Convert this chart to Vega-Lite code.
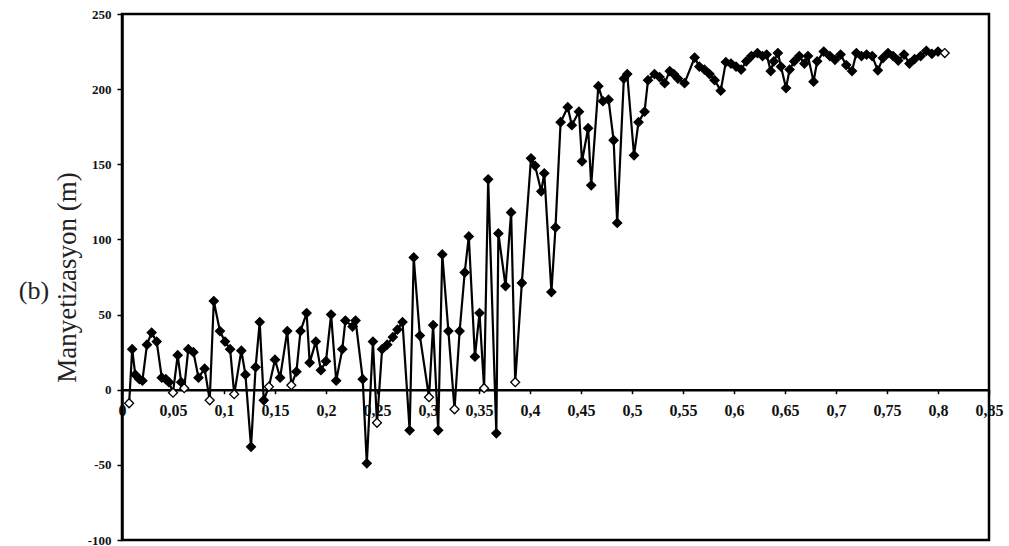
{
  "$schema": "https://vega.github.io/schema/vega-lite/v6.json",
  "width": 867,
  "height": 526,
  "autosize": {"type": "none"},
  "padding": {"left": 122, "top": 14, "right": 20, "bottom": 6},
  "background": "white",
  "title": {
    "text": "(b)",
    "orient": "left",
    "angle": 0,
    "anchor": "middle",
    "baseline": "middle",
    "align": "left",
    "offset": 4,
    "dy": 14,
    "font": "Liberation Serif",
    "fontSize": 26,
    "fontWeight": "normal",
    "color": "#222"
  },
  "config": {
    "view": {"stroke": "black", "strokeWidth": 2.5},
    "axis": {"grid": false}
  },
  "data": {
    "values": [
      {"h": 0.007, "m": -9, "k": "o"},
      {"h": 0.010, "m": 27, "k": "f"},
      {"h": 0.013, "m": 10, "k": "f"},
      {"h": 0.017, "m": 7, "k": "f"},
      {"h": 0.020, "m": 6, "k": "f"},
      {"h": 0.0245, "m": 30, "k": "f"},
      {"h": 0.029, "m": 38, "k": "f"},
      {"h": 0.034, "m": 32, "k": "f"},
      {"h": 0.039, "m": 8, "k": "f"},
      {"h": 0.043, "m": 7, "k": "f"},
      {"h": 0.046, "m": 5, "k": "f"},
      {"h": 0.050, "m": -2, "k": "o"},
      {"h": 0.0546, "m": 23, "k": "f"},
      {"h": 0.058, "m": 5, "k": "f"},
      {"h": 0.061, "m": 1, "k": "o"},
      {"h": 0.065, "m": 27, "k": "f"},
      {"h": 0.070, "m": 25, "k": "f"},
      {"h": 0.075, "m": 8, "k": "f"},
      {"h": 0.081, "m": 14, "k": "f"},
      {"h": 0.086, "m": -7, "k": "o"},
      {"h": 0.090, "m": 59, "k": "f"},
      {"h": 0.096, "m": 39, "k": "f"},
      {"h": 0.101, "m": 32, "k": "f"},
      {"h": 0.106, "m": 27, "k": "f"},
      {"h": 0.110, "m": -3, "k": "o"},
      {"h": 0.117, "m": 26, "k": "f"},
      {"h": 0.121, "m": 10, "k": "f"},
      {"h": 0.1265, "m": -38, "k": "f"},
      {"h": 0.131, "m": 15, "k": "f"},
      {"h": 0.135, "m": 45, "k": "f"},
      {"h": 0.139, "m": -7, "k": "f"},
      {"h": 0.144, "m": 2, "k": "o"},
      {"h": 0.150, "m": 20, "k": "f"},
      {"h": 0.155, "m": 8, "k": "f"},
      {"h": 0.162, "m": 39, "k": "f"},
      {"h": 0.166, "m": 3, "k": "o"},
      {"h": 0.171, "m": 12, "k": "f"},
      {"h": 0.175, "m": 39, "k": "f"},
      {"h": 0.181, "m": 51, "k": "f"},
      {"h": 0.184, "m": 18, "k": "f"},
      {"h": 0.190, "m": 32, "k": "f"},
      {"h": 0.195, "m": 13, "k": "f"},
      {"h": 0.200, "m": 19, "k": "f"},
      {"h": 0.205, "m": 50, "k": "f"},
      {"h": 0.210, "m": 6, "k": "f"},
      {"h": 0.216, "m": 27, "k": "f"},
      {"h": 0.219, "m": 46, "k": "f"},
      {"h": 0.226, "m": 42, "k": "f"},
      {"h": 0.229, "m": 46, "k": "f"},
      {"h": 0.236, "m": 7, "k": "f"},
      {"h": 0.240, "m": -49, "k": "f"},
      {"h": 0.246, "m": 32, "k": "f"},
      {"h": 0.250, "m": -22, "k": "o"},
      {"h": 0.255, "m": 27, "k": "f"},
      {"h": 0.260, "m": 30, "k": "f"},
      {"h": 0.2655, "m": 35, "k": "f"},
      {"h": 0.270, "m": 40, "k": "f"},
      {"h": 0.275, "m": 45, "k": "f"},
      {"h": 0.282, "m": -27, "k": "f"},
      {"h": 0.286, "m": 88, "k": "f"},
      {"h": 0.292, "m": 36, "k": "f"},
      {"h": 0.301, "m": -5, "k": "o"},
      {"h": 0.305, "m": 43, "k": "f"},
      {"h": 0.310, "m": -27, "k": "f"},
      {"h": 0.314, "m": 90, "k": "f"},
      {"h": 0.320, "m": 39, "k": "f"},
      {"h": 0.326, "m": -13, "k": "o"},
      {"h": 0.331, "m": 39, "k": "f"},
      {"h": 0.336, "m": 78, "k": "f"},
      {"h": 0.340, "m": 102, "k": "f"},
      {"h": 0.346, "m": 22, "k": "f"},
      {"h": 0.3505, "m": 51, "k": "f"},
      {"h": 0.355, "m": 1, "k": "o"},
      {"h": 0.359, "m": 140, "k": "f"},
      {"h": 0.367, "m": -29, "k": "f"},
      {"h": 0.369, "m": 104, "k": "f"},
      {"h": 0.376, "m": 69, "k": "f"},
      {"h": 0.3815, "m": 118, "k": "f"},
      {"h": 0.3855, "m": 5, "k": "o"},
      {"h": 0.392, "m": 71, "k": "f"},
      {"h": 0.401, "m": 154, "k": "f"},
      {"h": 0.405, "m": 149, "k": "f"},
      {"h": 0.411, "m": 132, "k": "f"},
      {"h": 0.414, "m": 144, "k": "f"},
      {"h": 0.421, "m": 65, "k": "f"},
      {"h": 0.425, "m": 108, "k": "f"},
      {"h": 0.430, "m": 178, "k": "f"},
      {"h": 0.437, "m": 188, "k": "f"},
      {"h": 0.441, "m": 176, "k": "f"},
      {"h": 0.448, "m": 185, "k": "f"},
      {"h": 0.451, "m": 152, "k": "f"},
      {"h": 0.457, "m": 174, "k": "f"},
      {"h": 0.460, "m": 136, "k": "f"},
      {"h": 0.467, "m": 202, "k": "f"},
      {"h": 0.4715, "m": 192, "k": "f"},
      {"h": 0.477, "m": 193, "k": "f"},
      {"h": 0.482, "m": 166, "k": "f"},
      {"h": 0.4855, "m": 111, "k": "f"},
      {"h": 0.492, "m": 207, "k": "f"},
      {"h": 0.4953, "m": 210, "k": "f"},
      {"h": 0.502, "m": 156, "k": "f"},
      {"h": 0.5064, "m": 178, "k": "f"},
      {"h": 0.5123, "m": 185, "k": "f"},
      {"h": 0.5157, "m": 206, "k": "f"},
      {"h": 0.522, "m": 210, "k": "f"},
      {"h": 0.527, "m": 208, "k": "f"},
      {"h": 0.532, "m": 204, "k": "f"},
      {"h": 0.537, "m": 212, "k": "f"},
      {"h": 0.541, "m": 210, "k": "f"},
      {"h": 0.545, "m": 207, "k": "f"},
      {"h": 0.5515, "m": 204, "k": "f"},
      {"h": 0.5614, "m": 221, "k": "f"},
      {"h": 0.566, "m": 215, "k": "f"},
      {"h": 0.571, "m": 213, "k": "f"},
      {"h": 0.576, "m": 210, "k": "f"},
      {"h": 0.581, "m": 206, "k": "f"},
      {"h": 0.587, "m": 199, "k": "f"},
      {"h": 0.592, "m": 218, "k": "f"},
      {"h": 0.597, "m": 217, "k": "f"},
      {"h": 0.602, "m": 215, "k": "f"},
      {"h": 0.607, "m": 213, "k": "f"},
      {"h": 0.612, "m": 218.5, "k": "f"},
      {"h": 0.617, "m": 222, "k": "f"},
      {"h": 0.623, "m": 224, "k": "f"},
      {"h": 0.628, "m": 222, "k": "f"},
      {"h": 0.632, "m": 223, "k": "f"},
      {"h": 0.636, "m": 212, "k": "f"},
      {"h": 0.639, "m": 218.5, "k": "f"},
      {"h": 0.643, "m": 224, "k": "f"},
      {"h": 0.646, "m": 215, "k": "f"},
      {"h": 0.651, "m": 200.7, "k": "f"},
      {"h": 0.6545, "m": 213, "k": "f"},
      {"h": 0.659, "m": 218.5, "k": "f"},
      {"h": 0.664, "m": 222, "k": "f"},
      {"h": 0.669, "m": 217, "k": "f"},
      {"h": 0.6725, "m": 222, "k": "f"},
      {"h": 0.678, "m": 205, "k": "f"},
      {"h": 0.6815, "m": 218.5, "k": "f"},
      {"h": 0.688, "m": 225, "k": "f"},
      {"h": 0.694, "m": 222, "k": "f"},
      {"h": 0.699, "m": 219.5, "k": "f"},
      {"h": 0.7045, "m": 223, "k": "f"},
      {"h": 0.710, "m": 216, "k": "f"},
      {"h": 0.7157, "m": 212, "k": "f"},
      {"h": 0.720, "m": 224, "k": "f"},
      {"h": 0.725, "m": 222, "k": "f"},
      {"h": 0.730, "m": 223, "k": "f"},
      {"h": 0.7355, "m": 222, "k": "f"},
      {"h": 0.741, "m": 212.5, "k": "f"},
      {"h": 0.746, "m": 220.7, "k": "f"},
      {"h": 0.751, "m": 224, "k": "f"},
      {"h": 0.756, "m": 222, "k": "f"},
      {"h": 0.761, "m": 219, "k": "f"},
      {"h": 0.7667, "m": 223, "k": "f"},
      {"h": 0.772, "m": 217, "k": "f"},
      {"h": 0.777, "m": 220, "k": "f"},
      {"h": 0.783, "m": 222, "k": "f"},
      {"h": 0.7886, "m": 225.5, "k": "f"},
      {"h": 0.794, "m": 223.5, "k": "f"},
      {"h": 0.800, "m": 225, "k": "f"},
      {"h": 0.8066, "m": 224, "k": "o"}
    ]
  },
  "encoding": {
    "x": {
      "field": "h",
      "type": "quantitative",
      "scale": {"domain": [0, 0.85], "nice": false, "zero": false},
      "axis": {
        "title": null,
        "orient": "bottom",
        "offset": -150.3,
        "values": [0, 0.05, 0.1, 0.15, 0.2, 0.25, 0.3, 0.35, 0.4, 0.45, 0.5, 0.55, 0.6, 0.65, 0.7, 0.75, 0.8, 0.85],
        "labelExpr": "replace(format(datum.value, '.2~f'), '.', ',')",
        "domainColor": "black",
        "domainWidth": 2.5,
        "tickColor": "black",
        "tickWidth": 1.5,
        "tickSize": 4,
        "labelPadding": 9,
        "labelFont": "Liberation Serif",
        "labelFontSize": 16,
        "labelFontWeight": "bold",
        "labelColor": "#111",
        "labelFlush": false,
        "labelOverlap": false
      }
    },
    "y": {
      "field": "m",
      "type": "quantitative",
      "scale": {"domain": [-100, 250], "nice": false},
      "axis": {
        "title": "Manyetizasyon (m)",
        "titleFont": "Liberation Serif",
        "titleFontSize": 27,
        "titleFontWeight": "normal",
        "titleColor": "#222",
        "titlePadding": 6,
        "values": [-100, -50, 0, 50, 100, 150, 200, 250],
        "labelExpr": "datum.value < 0 ? '-' + abs(datum.value) : '' + datum.value",
        "domainColor": "black",
        "domainWidth": 2.5,
        "tickColor": "black",
        "tickWidth": 1.5,
        "tickSize": 5,
        "labelPadding": 6,
        "labelFont": "Liberation Serif",
        "labelFontSize": 13,
        "labelFontWeight": "bold",
        "labelColor": "#111",
        "labelFlush": false,
        "labelOverlap": false
      }
    }
  },
  "layer": [
    {
      "mark": {"type": "line", "color": "black", "strokeWidth": 2.2, "interpolate": "linear"}
    },
    {
      "mark": {"type": "point", "shape": "diamond", "size": 80, "filled": true, "stroke": "black", "strokeWidth": 1.3, "opacity": 1},
      "encoding": {
        "fill": {
          "field": "k",
          "type": "nominal",
          "scale": {"domain": ["f", "o"], "range": ["black", "white"]},
          "legend": null
        }
      }
    }
  ]
}
